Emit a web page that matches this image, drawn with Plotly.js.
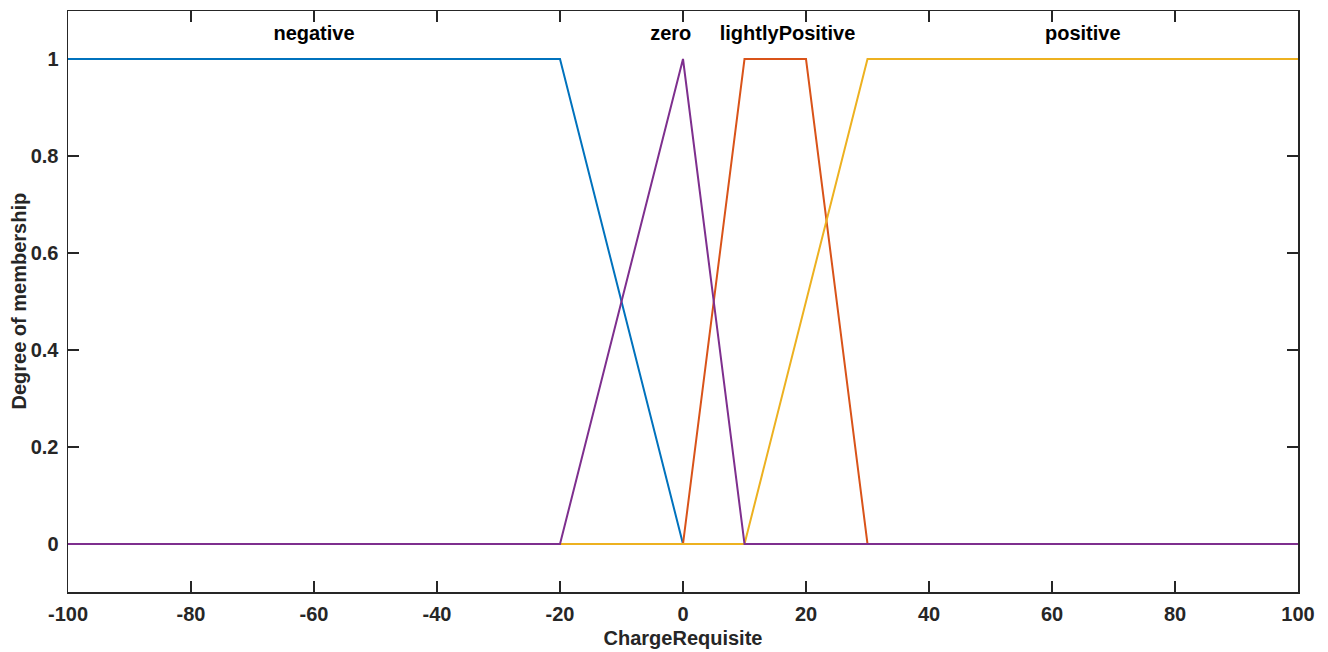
<!DOCTYPE html>
<html><head><meta charset="utf-8">
<script src="https://cdn.plot.ly/plotly-3.0.1.min.js"></script>
<style>html,body{margin:0;padding:0;background:#fff}#c{width:1328px;height:652px}</style>
</head><body><div id="c"></div>
<script>
const negX = [-100, -20, 0, 100];
const negY = [1, 1, 0, 0];
const lposX = [-100, 0, 10, 20, 30, 100];
const lposY = [0, 0, 1, 1, 0, 0];
const posX = [-100, 10, 30, 100];
const posY = [0, 0, 1, 1];
const zeroX = [-100, -20, 0, 10, 100];
const zeroY = [0, 0, 1, 0, 0];
const labelText = ['negative', 'zero', 'lightlyPositive', 'positive'];
const labelX = [-60, -2, 17, 65];
const labelY = [1.05, 1.05, 1.05, 1.05];
const xTicks = [-100, -80, -60, -40, -20, 0, 20, 40, 60, 80, 100];
const yTicks = [0, 0.2, 0.4, 0.6, 0.8, 1];

const fontFam = 'Liberation Sans, Arial, sans-serif';
const txtCol = '#262626';
const mk = (x, y, c) => ({x, y, type: 'scatter', mode: 'lines', line: {color: c, width: 2}, hoverinfo: 'skip', showlegend: false, cliponaxis: false});
const data = [
  mk(negX, negY, '#0072BD'),
  mk(lposX, lposY, '#D95319'),
  mk(posX, posY, '#EDB120'),
  mk(zeroX, zeroY, '#7E2F8E'),
  {x: labelX, y: labelY, text: labelText, type: 'scatter', mode: 'text', textposition: 'middle center',
   textfont: {family: fontFam, size: 20, color: '#000', weight: 'bold'}, showlegend: false, hoverinfo: 'skip'}
];
const axBase = {
  showgrid: false, zeroline: false, showline: true, linecolor: '#262626', linewidth: 1.5, mirror: 'ticks',
  ticks: 'inside', ticklen: 11, tickwidth: 1.5, tickcolor: '#262626', layer: 'below traces',
  tickfont: {family: fontFam, size: 20, color: txtCol, weight: 'bold'}
};
const layout = {
  width: 1328, height: 652,
  margin: {l: 68, r: 30, t: 11, b: 60},
  paper_bgcolor: '#fff', plot_bgcolor: '#fff',
  xaxis: Object.assign({}, axBase, {range: [-100, 100], tickvals: xTicks, ticktext: xTicks.map(String), ticklabelstandoff: 3,
    title: {text: 'ChargeRequisite', font: {family: fontFam, size: 20, color: txtCol, weight: 'bold'}, standoff: 7}}),
  yaxis: Object.assign({}, axBase, {range: [-48/485, 533/485], tickvals: yTicks, ticktext: yTicks.map(String), ticklabelstandoff: 4}),
  annotations: [{text: 'Degree of membership', xref: 'paper', yref: 'paper', x: 0, y: 0.5, xshift: -50,
    xanchor: 'center', yanchor: 'middle', textangle: -90, showarrow: false,
    font: {family: fontFam, size: 20, color: txtCol, weight: 'bold'}}]
};
Plotly.newPlot('c', data, layout, {staticPlot: true});
</script></body></html>
